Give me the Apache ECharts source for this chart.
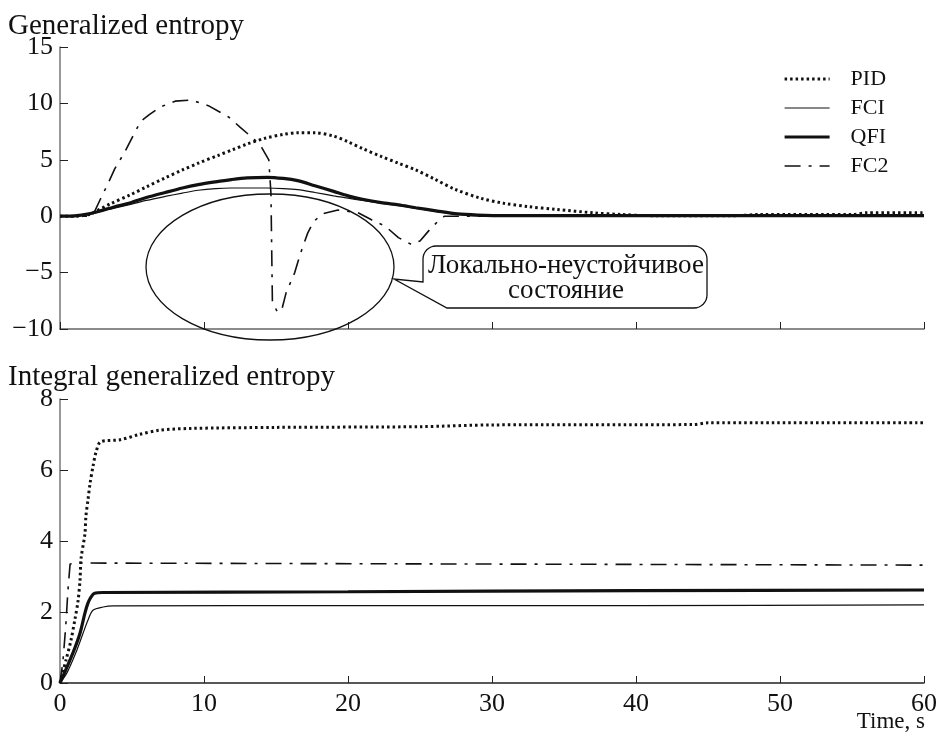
<!DOCTYPE html>
<html><head><meta charset="utf-8">
<script src="https://cdn.jsdelivr.net/npm/echarts@6/dist/echarts.min.js"></script>
<style>html,body{margin:0;padding:0;background:#fff}#c{width:939px;height:742px}</style>
</head><body><div id="c"></div>
<script>
// ---------- data ----------
const seriesNames = ['PID', 'FCI', 'QFI', 'FC2'];
const topTitle = 'Generalized entropy';
const bottomTitle = 'Integral generalized entropy';
const xAxisName = 'Time, s';
const calloutLines = ['Локально-неустойчивое', 'состояние'];
const xTickLabels = [0, 10, 20, 30, 40, 50, 60];
const topYTicks = [-10, -5, 0, 5, 10, 15];
const bottomYTicks = [0, 2, 4, 6, 8];

// Generalized entropy [time, value]
const pidEntropy = [[0,0],[1,0],[2,0.15],[2.6,0.5],[3.5,1.1],[4.9,1.9],[6,2.6],[7.3,3.4],[8.5,4.1],[9.6,4.7],[11,5.4],[12,5.9],[13,6.4],[14.2,6.9],[15.5,7.25],[16.5,7.4],[17.7,7.4],[19,7.1],[20,6.6],[21,6.0],[22.3,5.3],[23.5,4.7],[24.7,4.1],[26,3.3],[27.4,2.4],[29.2,1.6],[30.8,1.15],[32.5,0.85],[34.5,0.6],[37,0.3],[39,0.15],[41,0.05],[47,0.05],[48.5,0.15],[55,0.15],[56,0.3],[60,0.3]];
const fciEntropy = [[0,0],[1,0.02],[2,0.15],[2.6,0.35],[3.7,0.7],[4.9,1.05],[6,1.4],[7.3,1.75],[8.5,2.05],[9.6,2.3],[10.8,2.45],[11.9,2.5],[13,2.5],[14.4,2.5],[15.5,2.45],[16.5,2.35],[17.7,2.1],[19,1.8],[20,1.6],[21,1.4],[22.3,1.15],[23.5,0.95],[24.7,0.7],[26,0.45],[27.6,0.15],[29,0.05],[31,0],[60,0]];
const qfiEntropy = [[0,0],[1,0.03],[2,0.2],[2.6,0.4],[3.7,0.8],[4.9,1.2],[6,1.65],[7.3,2.1],[8.5,2.5],[9.6,2.8],[10.8,3.05],[11.9,3.25],[13,3.4],[14.4,3.45],[15.5,3.35],[16.5,3.15],[17.7,2.7],[19,2.2],[20,1.8],[21,1.5],[22.3,1.2],[23.5,1.0],[24.7,0.75],[26,0.5],[27.6,0.2],[29,0.1],[31,0.05],[60,0.05]];
const fc2Entropy = [[0,0],[2,0],[2.4,0.4],[2.8,1.5],[3.3,2.8],[3.8,4.2],[4.5,5.7],[5.1,7.2],[5.6,8.4],[6.2,9.0],[7,9.7],[8,10.2],[9.1,10.3],[10.3,9.8],[11.7,8.8],[12.5,7.9],[13.5,6.8],[14,6.1],[14.5,5.0],[14.65,2],[14.75,-7.6],[15.1,-8.5],[15.4,-8.3],[15.7,-6.8],[16.3,-5.0],[16.7,-3.3],[17.2,-1.5],[17.6,-0.5],[18.2,0.2],[19.3,0.55],[20.7,0.3],[21.6,-0.3],[22.6,-0.9],[23.5,-1.9],[24.4,-2.5],[25,-2.2],[25.6,-1.3],[26.2,-0.5],[26.7,0],[28,0],[60,0]];

// Integral generalized entropy [time, value]
const pidIntegral = [[0,0],[0.42,0.65],[0.76,1.2],[1.04,1.8],[1.25,2.3],[1.39,2.9],[1.46,3.5],[1.73,4.2],[1.8,4.7],[1.94,5.15],[2.08,5.6],[2.29,6.1],[2.5,6.5],[2.84,6.8],[4.16,6.85],[5.5,7.0],[6.9,7.12],[9,7.17],[15,7.2],[25,7.22],[30,7.27],[44,7.28],[45,7.33],[60,7.33]];
const fciIntegral = [[0,0],[0.5,0.3],[1.1,0.85],[1.6,1.4],[1.94,1.77],[2.29,2.05],[3,2.14],[3.7,2.17],[20,2.18],[40,2.18],[60,2.2]];
const qfiIntegral = [[0,0],[0.9,0.85],[1.39,1.4],[1.73,1.97],[1.94,2.25],[2.15,2.42],[2.4,2.53],[3,2.55],[20,2.57],[40,2.6],[60,2.62]];
const fc2Integral = [[0,0],[0.2,0.6],[0.4,1.6],[0.55,2.6],[0.7,3.35],[1.0,3.38],[60,3.32]];

// ---------- styles ----------
const FONT = '"Liberation Serif", "DejaVu Serif", serif';
const INK = '#111';
const lineStyles = {
  PID: { width: 3, type: [2.5, 3], cap: 'butt' },
  FCI: { width: 1.2, type: 'solid' },
  QFI: { width: 3.2, type: 'solid' },
  FC2: { width: 1.6, type: [16, 8, 3, 8] }
};
const topData = { PID: pidEntropy, FCI: fciEntropy, QFI: qfiEntropy, FC2: fc2Entropy };
const bottomData = { PID: pidIntegral, FCI: fciIntegral, QFI: qfiIntegral, FC2: fc2Integral };

const chart = echarts.init(document.getElementById('c'), null, { renderer: 'canvas' });

function mkSeries(name, data, idx) {
  return {
    name: name, type: 'line', data: data, xAxisIndex: idx, yAxisIndex: idx,
    showSymbol: false, symbol: 'none', animation: false,
    smooth: name === 'FC2' ? false : 0.3,
    lineStyle: Object.assign({ color: INK }, lineStyles[name]),
    itemStyle: { color: INK }
  };
}
const series = [];
seriesNames.forEach(n => series.push(mkSeries(n, topData[n], 0)));
seriesNames.forEach(n => series.push(mkSeries(n, bottomData[n], 1)));

const axisLabel = { fontFamily: FONT, fontSize: 26, color: INK };
function minusFmt(v) { return String(v).replace('-', '\u2212'); }

// rounded callout outline
function calloutPoints(l, t, r, b, rad, tip) {
  const pts = [];
  function arc(cx, cy, a0, a1) {
    for (let i = 0; i <= 8; i++) {
      const a = a0 + (a1 - a0) * i / 8;
      pts.push([cx + rad * Math.cos(a), cy + rad * Math.sin(a)]);
    }
  }
  pts.push([l, b - 26]);
  arc(l + rad, t + rad, Math.PI, 1.5 * Math.PI);
  arc(r - rad, t + rad, 1.5 * Math.PI, 2 * Math.PI);
  arc(r - rad, b - rad, 0, 0.5 * Math.PI);
  pts.push([l + 24, b]);
  pts.push(tip);
  return pts;
}

const titleStyle = { fontFamily: FONT, fontSize: 29, fontWeight: 'normal', color: INK };
const option = {
  animation: false,
  backgroundColor: '#fff',
  title: [
    { text: topTitle, left: 3, top: 7, textStyle: titleStyle },
    { text: bottomTitle, left: 3, top: 358, textStyle: titleStyle }
  ],
  legend: {
    data: seriesNames, orient: 'vertical', left: 778, top: 63,
    itemWidth: 45, itemHeight: 14, itemGap: 7,
    itemStyle: { opacity: 0, borderWidth: 0 },
    lineStyle: { width: 'inherit' },
    textStyle: { fontFamily: FONT, fontSize: 22, color: INK, lineHeight: 22, padding: [0, 0, 0, 16] },
    selectedMode: false
  },
  grid: [
    { left: 60, right: 15, top: 47, height: 282, outerBoundsMode: 'none', containLabel: false },
    { left: 60, right: 15, top: 399, height: 284, outerBoundsMode: 'none', containLabel: false }
  ],
  xAxis: [
    { type: 'value', gridIndex: 0, min: 0, max: 60, interval: 10,
      axisLine: { onZero: false, lineStyle: { color: '#666', width: 1.5 } },
      axisTick: { inside: true, length: 7, lineStyle: { color: '#222' } },
      axisLabel: { show: false }, splitLine: { show: false } },
    { type: 'value', gridIndex: 1, min: 0, max: 60, interval: 10,
      axisLine: { onZero: false, lineStyle: { color: '#222', width: 1.5 } },
      axisTick: { inside: true, length: 7, lineStyle: { color: '#222' } },
      axisLabel: Object.assign({ margin: 8, formatter: v => xTickLabels.includes(v) ? String(v) : '' }, axisLabel),
      splitLine: { show: false } }
  ],
  yAxis: [
    { type: 'value', gridIndex: 0, min: topYTicks[0], max: topYTicks[topYTicks.length - 1], interval: 5,
      axisLine: { onZero: false, lineStyle: { color: '#777', width: 1.5 } },
      axisTick: { inside: true, length: 8, lineStyle: { color: '#222' } },
      axisLabel: Object.assign({ margin: 7, formatter: minusFmt }, axisLabel),
      splitLine: { show: false } },
    { type: 'value', gridIndex: 1, min: bottomYTicks[0], max: bottomYTicks[bottomYTicks.length - 1], interval: 2,
      axisLine: { onZero: false, lineStyle: { color: '#777', width: 1.5 } },
      axisTick: { inside: true, length: 8, lineStyle: { color: '#222' } },
      axisLabel: Object.assign({ margin: 7, formatter: minusFmt }, axisLabel),
      splitLine: { show: false } }
  ],
  graphic: [
    { type: 'ellipse', z: 10, shape: { cx: 270, cy: 267, rx: 124, ry: 73 },
      style: { fill: 'none', stroke: INK, lineWidth: 1.3 } },
    { type: 'polygon', z: 10, shape: { points: calloutPoints(423, 246, 707, 308, 13, [394, 279]) },
      style: { fill: '#fff', stroke: INK, lineWidth: 1.3 } },
    { type: 'text', z: 11, x: 566, y: 266,
      style: { text: calloutLines[0], font: '27px ' + FONT, fill: INK, textAlign: 'center', textVerticalAlign: 'middle' } },
    { type: 'text', z: 11, x: 566, y: 291,
      style: { text: calloutLines[1], font: '27px ' + FONT, fill: INK, textAlign: 'center', textVerticalAlign: 'middle' } },
    { type: 'text', z: 11, x: 925, y: 722,
      style: { text: xAxisName, font: '23px ' + FONT, fill: INK, textAlign: 'right', textVerticalAlign: 'middle' } }
  ],
  series: series
};
chart.setOption(option);
</script>
</body></html>
